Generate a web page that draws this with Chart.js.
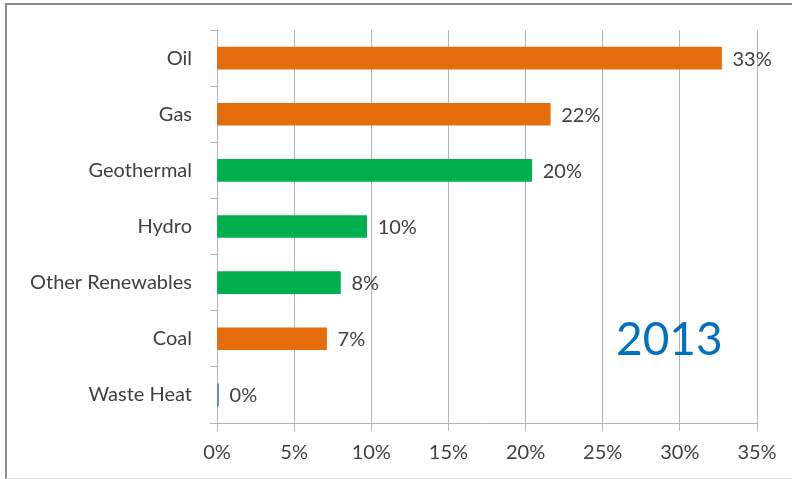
<!DOCTYPE html>
<html>
<head>
<meta charset="utf-8">
<script src="https://cdn.jsdelivr.net/npm/chart.js@4/dist/chart.umd.min.js"></script>
<style>
  html, body { margin: 0; padding: 0; background: #fff; }
  #page { position: relative; width: 792px; height: 479px; overflow: hidden; }
  #frame {
    position: absolute; left: 5px; top: 3px; width: 800px; height: 473px;
    border-left: 2px solid #8c8c8c; border-top: 2px solid #8c8c8c;
    border-bottom: 1px solid #e2e2e2;
  }
  #chart { position: absolute; left: 0; top: 0; }
  #year {
    position: absolute; left: 616px; top: 310px;
    font-family: Lato, sans-serif; font-size: 46px; color: #0070c0;
  }
</style>
</head>
<body>
<div id="page">
  <div id="frame"></div>
  <canvas id="chart" width="792" height="479"></canvas>
  <div id="year">2013</div>
</div>
<script>
// values
const categories = ['Oil', 'Gas', 'Geothermal', 'Hydro', 'Other Renewables', 'Coal', 'Waste Heat'];
const shares = [32.7, 21.6, 20.4, 9.7, 8.0, 7.1, 0.1];
const barColors = ['#e46c0a', '#e46c0a', '#00b050', '#00b050', '#00b050', '#e46c0a', '#4f81bd'];
const xTicks = [0, 5, 10, 15, 20, 25, 30, 35];

const textColor = '#404040';
const lineColor = '#b4b4b4';
const font = { family: 'Lato, sans-serif', size: 20 };

/*
** draws the rounded percentage at the end of each bar
*/
const barLabels = {
  id: 'barLabels',
  afterDatasetsDraw(chart) {
    const ctx = chart.ctx;
    const meta = chart.getDatasetMeta(0);
    ctx.save();
    ctx.font = font.size + 'px ' + font.family;
    ctx.fillStyle = textColor;
    ctx.textAlign = 'left';
    ctx.textBaseline = 'middle';
    meta.data.forEach((bar, i) => {
      ctx.fillText(Math.round(shares[i]) + '%', bar.x + 11, bar.y + 1);
    });
    ctx.restore();
  }
};

new Chart(document.getElementById('chart'), {
  type: 'bar',
  data: {
    labels: categories,
    datasets: [{
      data: shares,
      backgroundColor: barColors,
      barThickness: 22
    }]
  },
  options: {
    indexAxis: 'y',
    responsive: false,
    animation: false,
    layout: { padding: { left: 0, top: 27, right: 35, bottom: 0 } },
    plugins: { legend: { display: false }, tooltip: { enabled: false } },
    scales: {
      x: {
        min: 0,
        max: 35,
        afterBuildTicks: (scale) => { scale.ticks = xTicks.map(v => ({ value: v })); },
        afterFit: (scale) => { scale.height = 56; },
        grid: { color: lineColor, tickLength: 8, lineWidth: 1 },
        border: { color: lineColor },
        ticks: { color: textColor, font: font, padding: 10, callback: (v) => v + '%' }
      },
      y: {
        afterFit: (scale) => { scale.width = 217; },
        grid: { drawOnChartArea: false, color: lineColor, tickLength: 7 },
        border: { color: lineColor },
        ticks: { color: textColor, font: font, padding: 18 }
      }
    }
  },
  plugins: [barLabels]
});
</script>
</body>
</html>
